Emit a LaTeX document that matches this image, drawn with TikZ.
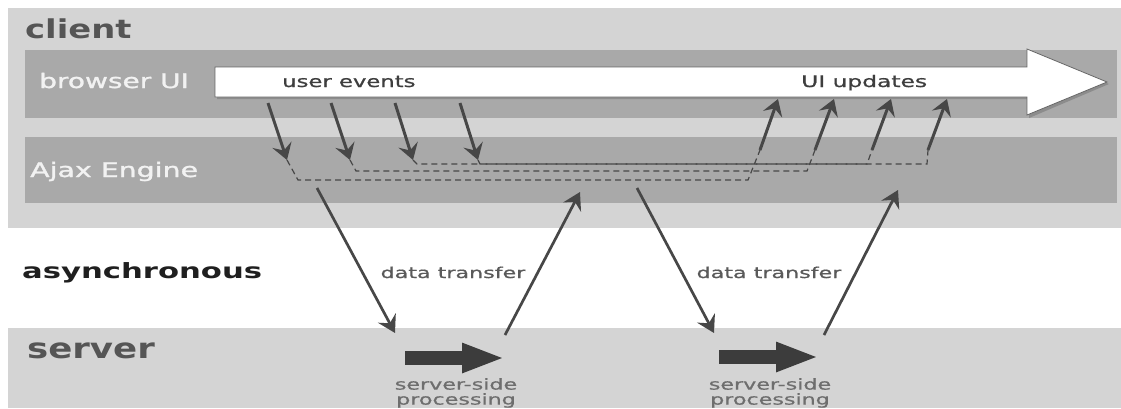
\documentclass[tikz,border=0pt]{standalone}
\usepackage{fontspec}
\setmainfont{DejaVu Sans}
\newfontfamily\heavyish[FakeBold=1.2]{DejaVu Sans}
\newfontfamily\heavylite[FakeBold=0.7]{DejaVu Sans}
\usepackage{graphicx}
\usetikzlibrary{arrows.meta}
\definecolor{panelgray}{HTML}{D4D4D4}
\definecolor{bandgray}{HTML}{A9A9A9}
\definecolor{arrgray}{HTML}{474747}
\definecolor{procgray}{HTML}{3C3C3C}
\definecolor{titlegray}{HTML}{555555}
\definecolor{smalltxt}{HTML}{3E3E3E}
\definecolor{dttxt}{HTML}{5A5A5A}
\definecolor{sptxt}{HTML}{6E6E6E}
\newcommand{\hx}[2]{\scalebox{#1}[1]{#2}}
\begin{document}
\begin{tikzpicture}[x=1pt,y=-1pt,
  panel/.style={fill=panelgray, draw=none, inner sep=0pt, outer sep=0pt, anchor=north west},
  band/.style={fill=bandgray, draw=none, inner sep=0pt, outer sep=0pt, anchor=north west},
  lbl/.style={inner sep=0pt, anchor=base west},
  evarrow/.style={draw=arrgray, line width=3pt, -{Stealth[length=16pt,width=20pt,inset=6pt]}},
  dtarrow/.style={draw=arrgray, line width=2.7pt, -{Stealth[length=17pt,width=20pt,inset=6pt]}},
  dashline/.style={draw=arrgray, line width=1.2pt, dash pattern=on 6pt off 4pt},
  procarrow/.style={draw=procgray, line width=14pt, -{Triangle[length=43pt,width=27pt]}},
]
\useasboundingbox (0,0) rectangle (1121,408);
\fill[white] (0,0) rectangle (1121,408);

% panels
\node[panel, minimum width=1113pt, minimum height=220pt] (client) at (8,8) {};
\node[band, minimum width=1092pt, minimum height=68pt] (bui) at (25,50) {};
\node[band, minimum width=1092pt, minimum height=66pt] (ajax) at (25,137) {};
\node[panel, minimum width=1113pt, minimum height=80pt] (server) at (8,328) {};

% titles
\node[lbl, font=\bfseries\fontsize{26}{26}\selectfont, text=titlegray] (clientlbl) at (25,38) {\hx{1.3}{client}};
\node[lbl, font=\bfseries\fontsize{28}{28}\selectfont, text=titlegray] (serverlbl) at (27,358) {\hx{1.27}{server}};
\node[lbl, font=\bfseries\fontsize{21}{21}\selectfont, text=black!88] (asynclbl) at (22,278) {\hx{1.46}{asynchronous}};
\node[lbl, font=\heavyish\fontsize{20}{20}\selectfont, text=white!95!black] (builbl) at (39,88) {\hx{1.4}{browser UI}};
\node[lbl, font=\heavyish\fontsize{20}{20}\selectfont, text=white!95!black] (ajaxlbl) at (30,177) {\hx{1.42}{Ajax Engine}};

% big white arrow (timeline)
\fill[black!45] (217,69) -- (1029,69) -- (1029,51) -- (1109,84) -- (1029,118) -- (1029,99) -- (217,99) -- cycle;
\draw[draw=black!60, line width=0.8pt, fill=white] (215,67) -- (1027,67) -- (1027,49) -- (1107,82) -- (1027,115) -- (1027,97) -- (215,97) -- cycle;
\node[lbl, font=\heavylite\fontsize{16}{16}\selectfont, text=smalltxt] (uevlbl) at (282,87) {\hx{1.42}{user events}};
\node[lbl, font=\heavylite\fontsize{16}{16}\selectfont, text=smalltxt] (uiulbl) at (801,87) {\hx{1.46}{UI updates}};

% user event arrows
\coordinate (e1s) at (268,103); \coordinate (e1t) at (287,160);
\coordinate (e2s) at (331,103); \coordinate (e2t) at (350,160);
\coordinate (e3s) at (395,103); \coordinate (e3t) at (413,160);
\coordinate (e4s) at (460,103); \coordinate (e4t) at (478,160);
\draw[evarrow] (e1s) -- (e1t);
\draw[evarrow] (e2s) -- (e2t);
\draw[evarrow] (e3s) -- (e3t);
\draw[evarrow] (e4s) -- (e4t);

% update arrows
\coordinate (u1s) at (760,150); \coordinate (u1t) at (778,99);
\coordinate (u2s) at (815,150); \coordinate (u2t) at (834,99);
\coordinate (u3s) at (872,150); \coordinate (u3t) at (891,99);
\coordinate (u4s) at (928,150); \coordinate (u4t) at (947,99);
\draw[evarrow] (u1s) -- (u1t);
\draw[evarrow] (u2s) -- (u2t);
\draw[evarrow] (u3s) -- (u3t);
\draw[evarrow] (u4s) -- (u4t);

% dashed engine paths
\draw[dashline] (e1t) -- (298,180) -- (748,180) -- (u1s);
\draw[dashline] (e2t) -- (356,171) -- (807,171) -- (u2s);
\draw[dashline] (e3t) -- (417,164) -- (867,164) -- (u3s);
\draw[dashline] (e4t) -- (480,164) -- (927,164) -- (u4s);

% data transfer arrows
\coordinate (d1s) at (317,188); \coordinate (d1t) at (395,333);
\coordinate (r1s) at (505,335); \coordinate (r1t) at (580,192);
\coordinate (d2s) at (637,188); \coordinate (d2t) at (714,333);
\coordinate (r2s) at (824,335); \coordinate (r2t) at (898,190);
\draw[dtarrow] (d1s) -- (d1t);
\draw[dtarrow] (r1s) -- (r1t);
\draw[dtarrow] (d2s) -- (d2t);
\draw[dtarrow] (r2s) -- (r2t);
\node[inner sep=0pt, anchor=base, font=\heavylite\fontsize{15}{15}\selectfont, text=dttxt] (dt1) at (453,278) {\hx{1.48}{data transfer}};
\node[inner sep=0pt, anchor=base, font=\heavylite\fontsize{15}{15}\selectfont, text=dttxt] (dt2) at (769,278) {\hx{1.48}{data transfer}};

% server-side processing
\coordinate (p1s) at (405,358); \coordinate (p1t) at (505,358);
\coordinate (p2s) at (719,357); \coordinate (p2t) at (819,357);
\draw[procarrow] (p1s) -- (p1t);
\draw[procarrow] (p2s) -- (p2t);
\node[inner sep=0pt, anchor=north, align=center, font=\heavylite\fontsize{15}{15}\selectfont, text=sptxt] (sp1) at (456,378) {\hx{1.48}{server-side}\\\hx{1.48}{processing}};
\node[inner sep=0pt, anchor=north, align=center, font=\heavylite\fontsize{15}{15}\selectfont, text=sptxt] (sp2) at (770,378) {\hx{1.48}{server-side}\\\hx{1.48}{processing}};
\end{tikzpicture}
\end{document}
